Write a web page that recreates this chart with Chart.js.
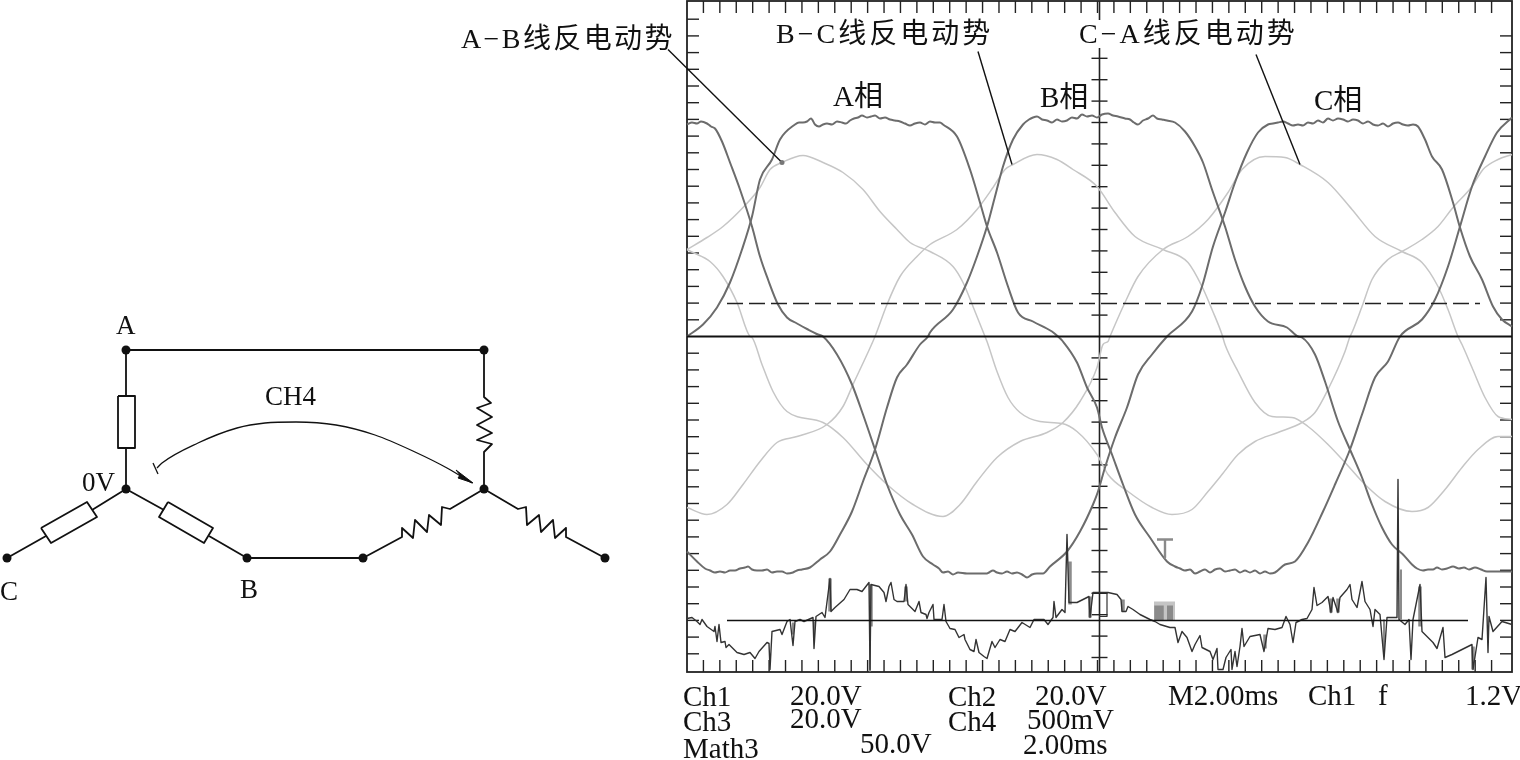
<!DOCTYPE html>
<html>
<head>
<meta charset="utf-8">
<title>反电动势波形</title>
<script src="https://cdn.jsdelivr.net/npm/chart.js@4"></script>
<style>
  html, body { margin: 0; background: #fff; overflow: hidden; }
  canvas { position: absolute; }
</style>
</head>
<body>
<canvas id="scope" width="1520" height="760" style="left:0;top:0"></canvas>
<canvas id="circuit" width="640" height="320" style="left:0;top:300px"></canvas>
<script>
// scope record: [sample, level]. 0 level is the centre line of the screen
const phaseA = [[0,212],[5,214],[10,213],[14,215],[20,213],[24,210],[28,208],[35,195],[43,174],[53,147],[65,110],[73,80],[81,57],[91,32],[100,19],[110,13],[121,7],[131,2],[136,0],[150,-18],[165,-48],[176,-78],[188,-113],[200,-148],[213,-178],[225,-198],[236,-220],[246,-228],[252,-232],[256,-236],[261,-235],[266,-238],[271,-236],[280,-237],[300,-237],[302,-236],[306,-234],[310,-236],[315,-237],[320,-235],[325,-237],[330,-236],[335,-238],[340,-241],[345,-238],[350,-237],[356,-237],[363,-230],[380,-215],[393,-195],[406,-168],[411,-155],[418,-131],[428,-101],[440,-71],[451,-38],[465,-18],[480,0],[505,25],[515,50],[526,90],[538,124],[548,154],[560,184],[571,204],[581,212],[586,213],[591,214],[596,215],[601,213],[606,211],[611,212],[616,211],[621,214],[626,213],[631,216],[636,214],[641,218],[646,216],[651,218],[656,217],[661,215],[666,217],[671,216],[676,213],[681,215],[686,212],[691,211],[696,213],[701,210],[706,213],[711,214],[716,212],[721,211],[726,212],[731,210],[738,197],[745,180],[755,167],[766,134],[773,109],[783,80],[795,57],[806,30],[815,17],[825,10]];
const phaseB = [[0,0],[16,12],[30,29],[43,54],[55,87],[65,120],[73,157],[85,177],[93,197],[108,212],[112,214],[116,214],[120,215],[124,218],[128,212],[132,210],[136,212],[140,213],[145,212],[150,215],[155,214],[159,213],[163,216],[167,218],[171,219],[175,221],[180,219],[184,220],[188,221],[193,218],[198,219],[203,217],[208,216],[213,215],[218,213],[223,211],[228,213],[233,214],[238,212],[243,215],[248,214],[253,214],[256,212],[270,200],[283,167],[293,134],[300,110],[310,84],[321,50],[331,24],[346,15],[365,5],[371,0],[376,-5],[390,-26],[400,-51],[410,-71],[415,-91],[425,-118],[436,-148],[448,-178],[463,-201],[480,-225],[488,-230],[493,-232],[498,-234],[503,-233],[508,-237],[513,-235],[518,-233],[523,-236],[528,-233],[533,-232],[538,-235],[543,-234],[548,-233],[553,-236],[558,-234],[563,-236],[568,-234],[573,-237],[578,-235],[583,-237],[588,-236],[598,-228],[608,-225],[621,-206],[636,-175],[648,-148],[663,-113],[675,-78],[688,-41],[701,-25],[713,0],[735,17],[748,37],[761,70],[773,110],[785,150],[798,180],[810,204],[825,219]];
const phaseC = [[0,-215],[10,-225],[18,-232],[23,-234],[28,-236],[33,-235],[38,-236],[43,-234],[48,-234],[53,-232],[58,-231],[61,-230],[65,-233],[70,-234],[75,-234],[80,-233],[85,-236],[90,-235],[95,-235],[100,-237],[106,-236],[110,-234],[115,-233],[123,-231],[133,-223],[143,-215],[153,-198],[165,-175],[176,-145],[188,-113],[200,-71],[210,-41],[220,-28],[233,-8],[241,0],[243,4],[266,27],[280,54],[290,80],[300,110],[308,140],[316,170],[326,197],[336,212],[342,217],[346,219],[350,220],[355,217],[360,216],[365,214],[370,217],[375,215],[380,216],[385,219],[390,218],[395,222],[400,220],[405,221],[410,219],[415,222],[421,223],[426,221],[431,220],[438,218],[443,217],[447,214],[451,212],[456,216],[461,218],[466,221],[470,218],[475,217],[480,216],[488,214],[498,205],[508,190],[516,174],[525,147],[538,110],[548,77],[558,50],[568,30],[581,15],[600,9],[611,0],[615,-1],[628,-18],[638,-45],[651,-85],[663,-113],[675,-141],[685,-168],[695,-191],[705,-208],[716,-218],[725,-228],[730,-232],[736,-234],[741,-233],[746,-233],[750,-231],[755,-233],[760,-232],[766,-230],[772,-232],[777,-231],[782,-233],[788,-231],[794,-233],[800,-235],[808,-235],[815,-235],[825,-235]];

const emfAB = [[0,87],[20,99],[36,110],[56,129],[73,149],[83,167],[95,174],[116,181],[136,174],[156,164],[176,147],[193,125],[210,107],[223,94],[243,85],[266,70],[276,54],[286,30],[298,0],[300,-5],[310,-35],[321,-61],[333,-76],[353,-85],[375,-87],[390,-95],[410,-118],[421,-138],[441,-155],[465,-171],[485,-178],[505,-173],[521,-155],[535,-138],[551,-118],[568,-105],[591,-96],[615,-86],[628,-76],[641,-53],[658,-15],[663,0],[665,4],[675,30],[685,57],[701,77],[715,85],[735,97],[751,110],[766,129],[785,150],[796,167],[811,177],[825,182]];
const emfBC = [[0,-171],[20,-178],[40,-168],[56,-148],[73,-125],[90,-106],[110,-100],[140,-88],[156,-70],[166,-48],[180,-18],[188,0],[200,32],[213,60],[230,80],[243,92],[270,107],[290,127],[306,149],[318,167],[326,172],[350,182],[370,177],[386,167],[410,150],[428,124],[448,100],[476,87],[501,74],[515,50],[525,27],[535,2],[538,-8],[551,-35],[568,-66],[585,-80],[605,-81],[621,-90],[641,-108],[658,-126],[678,-148],[698,-165],[725,-175],[741,-171],[758,-153],[775,-131],[791,-113],[811,-100],[825,-100]];
const emfCA = [[0,87],[6,84],[23,75],[36,60],[50,34],[63,0],[65,-1],[75,-28],[86,-55],[100,-75],[136,-86],[156,-101],[180,-128],[200,-148],[226,-168],[256,-180],[273,-168],[290,-145],[310,-121],[333,-105],[360,-96],[376,-86],[393,-65],[410,-31],[416,-8],[421,-5],[423,0],[438,34],[451,60],[476,87],[501,100],[521,117],[541,144],[555,167],[578,180],[598,179],[613,172],[641,154],[665,127],[688,100],[715,85],[735,74],[751,50],[761,27],[771,0],[775,-8],[785,-31],[798,-61],[811,-80],[825,-83]];

const math3 = [[0,-282],[5,-281],[10,-285],[13,-288],[15,-283],[20,-290],[27,-295],[28,-290],[30,-305],[32,-288],[34,-306],[38,-305],[39,-311],[42,-308],[50,-316],[57,-318],[63,-316],[68,-322],[72,-315],[80,-306],[82,-307],[83,-333],[85,-295],[93,-293],[95,-298],[100,-285],[103,-283],[106,-309],[108,-285],[113,-283],[117,-285],[126,-281],[127,-312],[129,-280],[135,-276],[138,-281],[143,-242],[144,-275],[148,-271],[157,-263],[163,-253],[170,-253],[175,-255],[182,-246],[183,-333],[184,-248],[192,-250],[197,-256],[199,-265],[202,-250],[204,-246],[207,-263],[210,-265],[217,-265],[219,-248],[221,-268],[228,-275],[232,-265],[234,-276],[239,-278],[240,-282],[242,-276],[246,-268],[247,-283],[255,-283],[257,-268],[259,-285],[263,-292],[268,-293],[272,-301],[277,-298],[278,-303],[283,-313],[287,-315],[289,-303],[292,-316],[297,-320],[300,-322],[305,-305],[308,-311],[313,-303],[318,-305],[323,-293],[328,-295],[335,-286],[343,-291],[347,-283],[357,-283],[361,-288],[366,-281],[367,-265],[369,-281],[375,-273],[378,-276],[380,-198],[382,-266],[390,-266],[402,-260],[403,-281],[406,-256],[417,-256],[421,-256],[430,-258],[434,-263],[435,-275],[439,-275],[441,-270],[446,-273],[453,-278],[463,-283],[468,-285],[473,-288],[483,-291],[488,-291],[491,-306],[495,-295],[500,-301],[505,-315],[508,-308],[513,-299],[515,-311],[523,-315],[526,-323],[530,-312],[531,-333],[536,-333],[539,-321],[544,-313],[545,-333],[548,-315],[550,-330],[553,-310],[555,-292],[557,-310],[563,-300],[573,-298],[577,-315],[581,-292],[588,-293],[595,-291],[599,-280],[603,-288],[606,-306],[609,-286],[615,-283],[620,-282],[625,-273],[627,-251],[630,-269],[635,-266],[641,-260],[644,-276],[646,-261],[651,-276],[653,-261],[660,-253],[663,-248],[665,-263],[670,-271],[675,-245],[678,-265],[683,-273],[686,-290],[688,-273],[693,-278],[697,-323],[700,-281],[710,-281],[711,-143],[712,-283],[718,-288],[722,-283],[724,-323],[726,-283],[733,-248],[735,-295],[746,-306],[750,-312],[756,-291],[758,-321],[765,-318],[775,-313],[785,-308],[786,-333],[791,-301],[795,-303],[799,-241],[801,-316],[802,-280],[806,-295],[815,-285],[825,-288]];
// smeared grey parts of the math trace, null splits them
const mathSmear = [[143,-242],[143,-275],null,[184,-248],[184,-290],null,[219,-250],[219,-265],null,[383,-225],[383,-268],null,[403,-260],[403,-281],null,[436,-263],[436,-275],null,[644,-262],[644,-276],null,[651,-262],[651,-276],null,[733,-250],[733,-290],null,[786,-310],[786,-333],null,[578,-298],[578,-312]];
const mathSmearThin = [[183,-290],[183,-335],null,[697,-283],[697,-320],null,[714,-233],[714,-283],null,[106,-286],[106,-298],null,[127,-285],[127,-297]];

const zeroLine = [[0,0],[825,0]];
const cursorDashed = [[40,33],[793,33]];
const cursorMath = [[40,-284],[781,-284]];
const triggerT = [[470,-203],[486,-203],null,[478,-203],[478,-221]];
const markerBox = [[412,-256],[420,-256],[420,-280],[412,-280]];
const blockLight = [[477.5,-265],[477.5,-284]];
const blockDarkLeft = [[472,-269],[472,-284]];
const blockDarkRight = [[483,-269],[483,-284]];
const leaderAB = [[-19,287],[95,174]];
const leaderBC = [[291,285],[325,172]];
const leaderCA = [[569,282],[613,172]];
const leaderTip = [[95,174]];

const xTickCount = 49, xTickStep = 16.42;
const yTickCount = 19, yTickStep = 16.7;
const centreTicksUp = 13, centreTicksDown = 15, centreTickStep = 21.4;
const centreX = 412.5;

const scopeTexts = [
  { t: 'A−B线反电动势', x: 461, y: 48, size: 28, gap: 2.4 },
  { t: 'B−C线反电动势', x: 776, y: 43, size: 28, gap: 3 },
  { t: 'C−A线反电动势', x: 1079, y: 43, size: 28, gap: 3 },
  { t: 'A相', x: 833, y: 106, size: 29 },
  { t: 'B相', x: 1040, y: 107, size: 29 },
  { t: 'C相', x: 1314, y: 110, size: 29 },
  { t: 'Ch1', x: 683, y: 706 }, { t: '20.0V', x: 790, y: 705 },
  { t: 'Ch2', x: 948, y: 706 }, { t: '20.0V', x: 1035, y: 705 },
  { t: 'M2.00ms', x: 1168, y: 705 }, { t: 'Ch1', x: 1308, y: 705 },
  { t: 'f', x: 1378, y: 705 }, { t: '1.2V', x: 1465, y: 705 },
  { t: 'Ch3', x: 683, y: 731 }, { t: '20.0V', x: 790, y: 728 },
  { t: 'Ch4', x: 948, y: 731 }, { t: '500mV', x: 1027, y: 729 },
  { t: 'Math3', x: 683, y: 758 }, { t: '50.0V', x: 860, y: 753 },
  { t: '2.00ms', x: 1023, y: 754 }
];

// circuit, in schematic units
const nodes = [[126,350],[484,350],[126,489],[7,558],[247,558],[363,558],[484,489],[605,558]];
const wireTop = [[126,350],[484,350]];
const wireBottom = [[247,558],[363,558]];
const armA = [[126,350],[126,396],null,[126,448],[126,489]];
const boxA = [[118,396],[135,396],[135,448],[118,448],[118,396]];
const armC = [[126,489],[92,510],null,[46,536],[7,558]];
const boxC = [[41,528],[87,502],[97,517],[51,543],[41,528]];
const armB = [[126,489],[164,510],null,[209,536],[247,558]];
const boxB = [[168,502],[213,528],[204,543],[159,517],[168,502]];
const coilA = [[484,350],[484,397],[491,403],[477,408],[492,417],[477,425],[492,433],[477,440],[492,444],[484,452],[484,489]];
const coilB = [[363,558],[402,537],[402,528],[413,538],[415,520],[427,532],[429,515],[441,525],[442,507],[450,509],[484,489]];
const coilC = [[484,489],[518,509],[526,507],[527,525],[539,515],[541,532],[553,520],[555,538],[566,528],[566,537],[605,558]];
const probeArc = [[157,468],[162,463],[198,443],[237,428],[265,423],[296,422],[336,425],[375,435],[415,452],[447,468],[472,483]];
const probeTee = [[153,463],[158,474]];
const arrowHead = [[473,483],[456,470],[460,475],[458,478],[473,483]];

const circuitTexts = [
  { t: 'A', x: 116, y: 334, size: 27 },
  { t: 'CH4', x: 265, y: 405, size: 27 },
  { t: '0V', x: 82, y: 491, size: 27 },
  { t: 'C', x: 0, y: 600, size: 27 },
  { t: 'B', x: 240, y: 598, size: 27 }
];

const toPts = arr => arr.map(p => p ? { x: p[0], y: p[1] } : { x: NaN, y: NaN });
const line = (arr, color, width, extra) => Object.assign({
  data: toPts(arr), showLine: true, borderColor: color, borderWidth: width,
  pointRadius: 0, tension: 0, fill: false, borderJoinStyle: 'round', clip: false
}, extra || {});
const smooth = { cubicInterpolationMode: 'monotone' };
const square = { borderJoinStyle: 'miter' };

const textPlugin = (list, offsetY) => ({
  id: 'texts',
  afterDraw(chart) {
    const c = chart.ctx;
    c.save();
    c.fillStyle = '#111';
    c.textBaseline = 'alphabetic';
    list.forEach(l => {
      c.font = (l.size || 29) + 'px "Liberation Serif", "Noto Sans CJK SC", serif';
      c.letterSpacing = (l.gap || 0) + 'px';
      c.fillText(l.t, l.x, l.y - offsetY);
    });
    c.restore();
  }
});

// screen border and the little graticule ticks, placed through the scales
const graticule = {
  id: 'graticule',
  beforeDatasetsDraw(chart) {
    const c = chart.ctx, xs = chart.scales.x, ys = chart.scales.y, a = chart.chartArea;
    const seg = (x1, y1, x2, y2) => { c.beginPath(); c.moveTo(x1, y1); c.lineTo(x2, y2); c.stroke(); };
    c.save();
    c.strokeStyle = '#222';
    c.lineWidth = 1.4;
    for (let k = 1; k <= xTickCount; k++) {
      const px = xs.getPixelForValue(k * xTickStep);
      seg(px, a.top, px, a.top + 12);
      seg(px, a.bottom - 12, px, a.bottom);
    }
    for (let k = -yTickCount; k <= yTickCount; k++) {
      if (k === 0) continue;
      const py = ys.getPixelForValue(k * yTickStep);
      seg(a.left, py, a.left + 12, py);
      if (k < yTickCount) seg(a.right - 12, py, a.right, py);
    }
    const cx = xs.getPixelForValue(centreX);
    for (let k = -centreTicksDown; k <= centreTicksUp; k++) {
      if (k === 0) continue;
      const py = ys.getPixelForValue(k * centreTickStep);
      seg(cx - 8, py, cx + 8, py);
    }
    c.lineWidth = 1.6;
    seg(cx, a.top, cx, a.top + 19);
    seg(cx, a.top + 47, cx, a.bottom);
    c.lineWidth = 1.8;
    c.strokeRect(a.left, a.top, a.right - a.left, a.bottom - a.top);
    c.restore();
  }
};

// listed bottom to top; chart.js paints the first dataset last, hence the reverse
const scopeSets = [
  line(emfAB, '#c6c6c6', 1.5, smooth),
  line(emfBC, '#c6c6c6', 1.5, smooth),
  line(emfCA, '#c6c6c6', 1.5, smooth),
  line(phaseA, '#6c6c6c', 2, smooth),
  line(phaseB, '#6c6c6c', 2, smooth),
  line(phaseC, '#6c6c6c', 2, smooth),
  line(blockLight, '#c4c4c4', 21, square),
  line(blockDarkLeft, '#8a8a8a', 9.5, square),
  line(blockDarkRight, '#8a8a8a', 6, square),
  line(triggerT, '#8a8a8a', 2.4),
  line(mathSmear, '#8c8c8c', 3.5, square),
  line(mathSmearThin, '#8c8c8c', 2, square),
  line(markerBox, '#333', 1.2),
  line(math3, '#333', 1.4),
  line(zeroLine, '#111', 2),
  line(cursorMath, '#111', 1.6),
  line(cursorDashed, '#222', 1.5, { borderDash: [16, 6] }),
  line(leaderAB, '#111', 1.4),
  line(leaderBC, '#111', 1.4),
  line(leaderCA, '#111', 1.4),
  { data: toPts(leaderTip), pointRadius: 2.5, pointBackgroundColor: '#777', pointBorderWidth: 0, clip: false }
].reverse();

new Chart(document.getElementById('scope'), {
  type: 'scatter',
  data: { datasets: scopeSets },
  options: {
    responsive: false,
    animation: false,
    layout: { autoPadding: false, padding: { left: 687, right: 8, top: 1, bottom: 88 } },
    plugins: { legend: { display: false }, tooltip: { enabled: false } },
    scales: {
      x: { type: 'linear', display: false, min: 0, max: 825 },
      y: { type: 'linear', display: false, min: -335.5, max: 335.5 }
    }
  },
  plugins: [graticule, textPlugin(scopeTexts, 0)]
});

new Chart(document.getElementById('circuit'), {
  type: 'scatter',
  data: {
    datasets: [
      line(wireTop, '#111', 2), line(wireBottom, '#111', 1.8),
      line(armA, '#111', 1.8), line(boxA, '#111', 1.8),
      line(armC, '#111', 1.8), line(boxC, '#111', 1.8),
      line(armB, '#111', 1.8), line(boxB, '#111', 1.8),
      line(coilA, '#111', 1.8), line(coilB, '#111', 1.8), line(coilC, '#111', 1.8),
      line(probeArc, '#111', 1.3, smooth), line(probeTee, '#111', 1.3),
      line(arrowHead, '#111', 1, { fill: 'shape', backgroundColor: '#111' }),
      { data: toPts(nodes), pointRadius: 4.5, pointBackgroundColor: '#111', pointBorderWidth: 0, clip: false }
    ]
  },
  options: {
    responsive: false,
    animation: false,
    layout: { autoPadding: false },
    plugins: { legend: { display: false }, tooltip: { enabled: false } },
    scales: {
      x: { type: 'linear', display: false, min: 0, max: 640 },
      y: { type: 'linear', display: false, min: 300, max: 620, reverse: true }
    }
  },
  plugins: [textPlugin(circuitTexts, 300)]
});
</script>
</body>
</html>
